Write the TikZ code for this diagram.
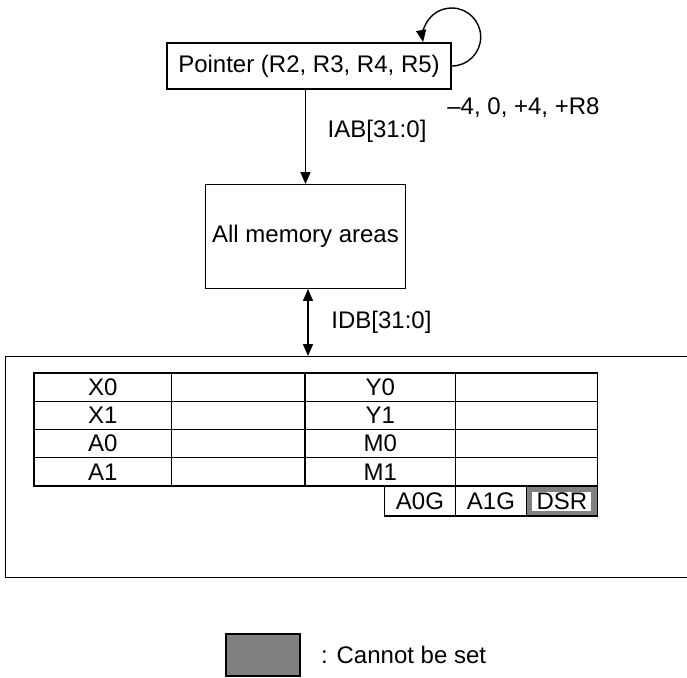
\documentclass[tikz,border=0pt]{standalone}
\usepackage{fontspec}
\setmainfont{Liberation Sans}
\usetikzlibrary{arrows.meta, positioning}
\usepackage{xcolor}
\definecolor{LockGray}{HTML}{808080}

\begin{document}
\begin{tikzpicture}[
            x=0.5pt, y=-0.5pt,
            every node/.style={font=\fontsize{12}{14}\selectfont},
            block/.style={rectangle, draw, line width=0.7pt, align=center},
            cell/.style={rectangle, draw, line width=0.6pt, inner sep=0pt, outer sep=0pt, minimum height=14.125pt},
            lbl/.style={inner sep=0pt},
            arrow/.style={-{Triangle[length=6pt, width=5pt]}, line width=0.7pt},
            dblarrow/.style={{Triangle[length=6pt, width=5pt]}-{Triangle[length=6pt, width=5pt]}, line width=0.7pt}
        ]
            \useasboundingbox (0,0) rectangle (687,677);

            \node[block, minimum width=142pt, minimum height=23pt] (ptr) at (309,66) {Pointer (R2, R3, R4, R5)};
            \node[lbl, anchor=west] (ofs) at (447,108) {\textendash4, 0, +4, +R8};
            \node[block, minimum width=98.5pt, minimum height=51.75pt] (mem) at (305.5,236.5) {All memory areas};
            \node[block, anchor=north west, minimum width=342.5pt, minimum height=110.5pt] (bank) at (5,356) {};

            % register table
            \node[cell, anchor=north west, minimum width=68.85pt] (x0) at (34,373) {X0};
            \node[cell, right=0pt of x0, minimum width=66.65pt] (x0v) {};
            \node[cell, right=0pt of x0v, minimum width=75.25pt] (y0) {Y0};
            \node[cell, right=0pt of y0, minimum width=70.9pt] (y0v) {};
            \node[cell, below=0pt of x0, minimum width=68.85pt] (x1) {X1};
            \node[cell, right=0pt of x1, minimum width=66.65pt] (x1v) {};
            \node[cell, right=0pt of x1v, minimum width=75.25pt] (y1) {Y1};
            \node[cell, right=0pt of y1, minimum width=70.9pt] (y1v) {};
            \node[cell, below=0pt of x1, minimum width=68.85pt] (a0) {A0};
            \node[cell, right=0pt of a0, minimum width=66.65pt] (a0v) {};
            \node[cell, right=0pt of a0v, minimum width=75.25pt] (m0) {M0};
            \node[cell, right=0pt of m0, minimum width=70.9pt] (m0v) {};
            \node[cell, below=0pt of a0, minimum width=68.85pt] (a1) {A1};
            \node[cell, right=0pt of a1, minimum width=66.65pt] (a1v) {};
            \node[cell, right=0pt of a1v, minimum width=75.25pt] (m1) {M1};
            \node[cell, right=0pt of m1, minimum width=70.9pt] (m1v) {};

            % guard bits and DSR
            \node[cell, anchor=north east, minimum width=35.5pt, minimum height=15pt] (a0g) at (m1.south east) {A0G};
            \node[cell, right=0pt of a0g, minimum width=35.5pt, minimum height=15pt] (a1g) {A1G};
            \node[cell, right=0pt of a1g, fill=LockGray, minimum width=35.4pt, minimum height=15pt] (dsr) {};
            \node[lbl, fill=white, minimum width=29.5pt, minimum height=9.5pt] (dsrtxt) at (dsr.center) {DSR};

            % legend
            \node[block, fill=LockGray, minimum width=37pt, minimum height=21pt] (key) at (263,655) {};
            \node[lbl, right=10pt of key] (keytxt) {: Cannot be set};

            \draw[arrow] (ptr.east) arc[start angle=-90, end angle=190, radius=14.5pt];
            \draw[arrow] (mem.north |- ptr.south) -- node[lbl, pos=0.44, right=10.75pt] (iab) {IAB[31:0]} (mem.north);
            \draw[dblarrow] ([xshift=1.25pt]mem.south) -- node[lbl, right=11.35pt] (idb) {IDB[31:0]} ([xshift=1.25pt]mem.south |- bank.north);
        \end{tikzpicture}
\end{document}
